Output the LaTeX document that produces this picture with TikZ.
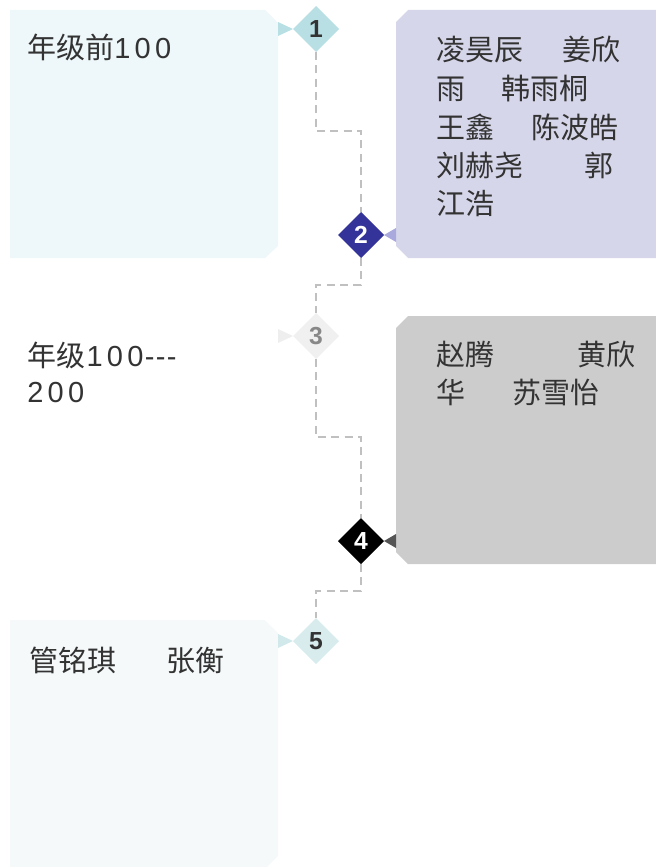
\documentclass[tikz,border=0pt]{standalone}
\usepackage{fontspec}
\newfontfamily\cjk{Noto Sans CJK SC}
\newfontfamily\lat{Liberation Sans}
\usetikzlibrary{shapes.geometric}
\definecolor{textc}{HTML}{333333}
\definecolor{boxA}{HTML}{EEF7F9}
\definecolor{boxB}{HTML}{D6D6EA}
\definecolor{boxD}{HTML}{CCCCCC}
\definecolor{boxE}{HTML}{F5F9FA}
\definecolor{diaA}{HTML}{B8E0E4}
\definecolor{diaB}{HTML}{333399}
\definecolor{triB}{HTML}{A9A9DD}
\definecolor{diaC}{HTML}{F0F0F0}
\definecolor{triC}{HTML}{EEEEEE}
\definecolor{numC}{HTML}{888888}
\definecolor{triD}{HTML}{555555}
\definecolor{diaE}{HTML}{D8ECEE}
\definecolor{triE}{HTML}{D2E9EC}
\definecolor{dashc}{HTML}{C0C0C0}
\tikzset{
  dia/.style={diamond, aspect=1, minimum size=34.5pt, inner sep=0pt, outer sep=0pt,
    font=\lat\bfseries\fontsize{18.5}{18.5}\selectfont},
  txt/.style={anchor=base west, inner sep=0pt, text=textc, font=\cjk\fontsize{21.75}{21.75}\selectfont},
  conn/.style={draw=dashc, line width=1.6pt, dash pattern=on 6pt off 4pt},
}
\newcommand{\dk}{\kern3.2pt}
\begin{document}
\begin{tikzpicture}[x=0.75pt,y=-0.75pt]
\useasboundingbox (0,0) rectangle (656,867);
% boxes
\fill[boxA] (10,10) -- (265,10) -- (278,23) -- (278,246) -- (265,258) -- (10,258) -- cycle;
\fill[boxB] (408,10) -- (656,10) -- (656,258) -- (408,258) -- (396,246) -- (396,22) -- cycle;
\fill[boxD] (408,316) -- (656,316) -- (656,564) -- (408,564) -- (396,552) -- (396,328) -- cycle;
\fill[boxE] (10,620) -- (265,620) -- (278,633) -- (278,856) -- (266,868) -- (10,868) -- cycle;
% diamonds
\node[dia, fill=diaA, text=textc] (d1) at (316,29) {1};
\node[dia, fill=diaB, text=white] (d2) at (361,235) {2};
\node[dia, fill=diaC, text=numC] (d3) at (316,336) {3};
\node[dia, fill=black, text=white] (d4) at (361,541) {4};
\node[dia, fill=diaE, text=textc] (d5) at (316,641) {5};
% pointers
\fill[diaA] (d1.west) -- ++(-15,-7) -- ++(0,14) -- cycle;
\fill[triB] (d2.east) -- ++(12,-7) -- ++(0,14) -- cycle;
\fill[triC] (d3.west) -- ++(-15,-7) -- ++(0,14) -- cycle;
\fill[triD] (d4.east) -- ++(12,-7) -- ++(0,14) -- cycle;
\fill[triE] (d5.west) -- ++(-15,-7) -- ++(0,14) -- cycle;
% connectors
\coordinate (k1) at (361,131);
\coordinate (k2) at (316,285);
\coordinate (k3) at (361,437);
\coordinate (k4) at (316,591);
\draw[conn] (d1.south) |- (k1) -- (d2.north);
\draw[conn] (d2.south) |- (k2) -- (d3.north);
\draw[conn] (d3.south) |- (k3) -- (d4.north);
\draw[conn] (d4.south) |- (k4) -- (d5.north);
% texts
\node[txt] (t1) at (27,59) {年级前{\lat 1\dk0\dk0}};
\node[txt] (t3a) at (27,366) {年级\kern1pt{\lat 1\dk0\dk0\kern1pt-\kern1pt-\kern1pt-}};
\node[txt] (t3b) at (27,402) {\lat 2\dk0\dk0};
\node[txt] (t2a) at (436,61) {凌昊辰};
\node[txt] (t2b) at (562,61) {姜欣};
\node[txt] (t2c) at (436,99) {雨};
\node[txt] (t2d) at (501,99) {韩雨桐};
\node[txt] (t2e) at (436,138) {王鑫};
\node[txt] (t2f) at (531,138) {陈波皓};
\node[txt] (t2g) at (436,176) {刘赫尧};
\node[txt] (t2h) at (584,176) {郭};
\node[txt] (t2i) at (436,214) {江浩};
\node[txt] (t4a) at (436,365) {赵腾};
\node[txt] (t4b) at (577,365) {黄欣};
\node[txt] (t4c) at (436,403) {华};
\node[txt] (t4d) at (512,403) {苏雪怡};
\node[txt] (t5a) at (29,671) {管铭琪};
\node[txt] (t5b) at (166,671) {张衡};
\end{tikzpicture}
\end{document}
